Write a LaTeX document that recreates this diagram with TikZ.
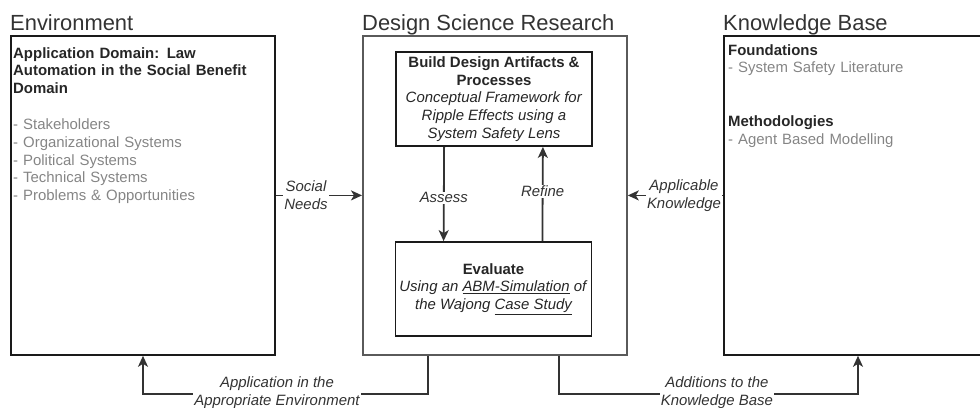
\documentclass[tikz,border=0pt]{standalone}
\usepackage{fontspec}
\setmainfont{Liberation Sans}
\usetikzlibrary{arrows.meta}
\definecolor{edge}{HTML}{333333}
\definecolor{soft}{HTML}{858585}
\definecolor{frame}{HTML}{1A1A1A}
\definecolor{dsrframe}{HTML}{5A5A5A}
\begin{document}
\begin{tikzpicture}[x=1bp,y=-1bp,
  every node/.style={font=\fontsize{15}{17.9}\selectfont, inner sep=0pt, text=black!85},
  title/.style={font=\fontsize{22}{26}\selectfont, anchor=base west, text=black!80},
  panel/.style={draw=frame, line width=1.8bp, anchor=north west,
    minimum width=264bp, minimum height=319bp},
  stage/.style={draw=frame, line width=1.8bp, minimum width=196bp,
    minimum height=94bp, align=center},
  flow/.style={draw=edge, line width=1.8bp,
    -{Stealth[length=11bp,width=10bp,inset=3bp]}},
  tag/.style={fill=white, align=center, inner sep=1bp, text=edge,
    font=\fontsize{15}{17.9}\selectfont\itshape},
  listing/.style={anchor=north west, align=left, text width=250bp},
]
\clip (0,0) rectangle (980,407);

% column titles
\node[title] (tenv) at (10,30) {Environment};
\node[title] (tdsr) at (362,30) {Design Science Research};
\node[title] (tkb)  at (723,30) {Knowledge Base};

% the three columns
\node[panel] (env) at (10,35) {};
\node[panel, draw=dsrframe] (dsr) at (362,35) {};
\node[panel] (kb) at (723,35) {};

% environment contents
\node[listing] (envtext) at (13,47) {%
  \textbf{Application Domain: Law}\\
  \textbf{Automation in the Social Benefit}\\
  \textbf{Domain}\\[17.9pt]
  \textcolor{soft}{- Stakeholders}\\
  \textcolor{soft}{- Organizational Systems}\\
  \textcolor{soft}{- Political Systems}\\
  \textcolor{soft}{- Technical Systems}\\
  \textcolor{soft}{- Problems \& Opportunities}};

% knowledge base contents
\node[listing] (kbtext) at (728,44) {%
  \textbf{Foundations}\\
  \textcolor{soft}{- System Safety Literature}\\[35.8pt]
  \textbf{Methodologies}\\
  \textcolor{soft}{- Agent Based Modelling}};

% design science cycle
\node[stage] (build) at (494,99) {%
  \textbf{Build Design Artifacts \&}\\
  \textbf{Processes}\\
  \textit{Conceptual Framework for}\\
  \textit{Ripple Effects using a}\\
  \textit{System Safety Lens}};
\node[stage] (eval) at (493.5,289) {%
  \textbf{Evaluate}\\
  \textit{Using an \underline{ABM-Simulation} of}\\
  \textit{the Wajong \underline{Case Study}}};

\draw[flow] ([xshift=49bp]build.south west) --
  node[tag, pos=0.54] {Assess} ([xshift=49bp]eval.north west);
\draw[flow] ([xshift=-50bp]eval.north east) --
  node[tag, pos=0.53] {Refine} ([xshift=-50bp]build.south east);

% relevance and rigor links
\draw[flow] (env.east) -- node[tag, pos=0.35] {Social\\Needs} (dsr.west);
\draw[flow] (kb.west) -- node[tag, pos=0.41] {Applicable\\Knowledge} (dsr.east);

\draw[flow] ([xshift=66bp]dsr.south west) -- ++(0,38)
  -| node[tag, pos=0.265, yshift=1.5bp] {Application in the\\Appropriate Environment}
  ([xshift=133bp]env.south west);
\draw[flow] ([xshift=197bp]dsr.south west) -- ++(0,38)
  -| node[tag, pos=0.264, yshift=1.5bp] {Additions to the\\Knowledge Base}
  ([xshift=135bp]kb.south west);
\end{tikzpicture}
\end{document}
